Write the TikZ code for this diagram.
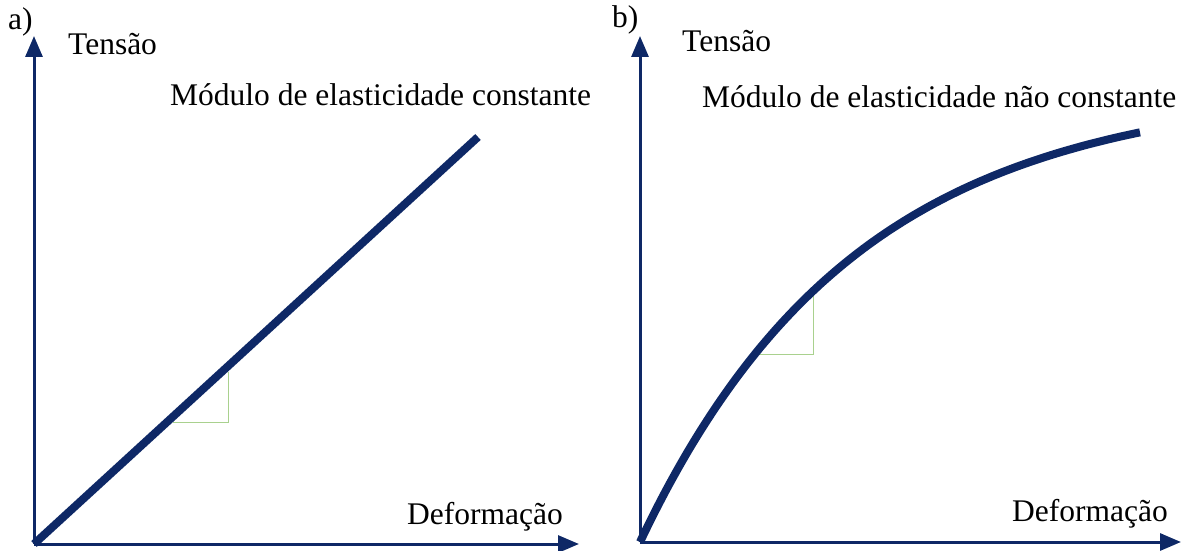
\documentclass[tikz,border=0pt]{standalone}
\usepackage{fontspec}
\setmainfont{Liberation Serif}
\usetikzlibrary{arrows.meta}
\definecolor{navy}{RGB}{14,40,102}
\definecolor{lgreen}{RGB}{169,209,142}
\begin{document}
\begin{tikzpicture}[x=1pt,y=-1pt,
  lbl/.style={anchor=base west,inner sep=0pt,font=\fontsize{31.5}{37}\selectfont},
  axis/.style={draw=navy,line width=3pt,-{Triangle[length=21pt,width=17pt]}},
  curve/.style={draw=navy,line width=8pt},
  tri/.style={draw=lgreen,line width=1pt}]
\useasboundingbox (0,0) rectangle (1187,551);
% panel a
\coordinate (oa) at (34,544);
\coordinate (ya) at (34,36);
\coordinate (xa) at (579,544);
\coordinate (ea) at (478,137);
\coordinate (ta1) at (173,422);
\coordinate (ta2) at (228,422);
\coordinate (ta3) at (228,372);
\draw[tri] (ta1) -- (ta2) -- (ta3);
\draw[axis] (oa) -- (ya);
\draw[axis] (oa) -- (xa);
\draw[curve] (oa) -- (ea);
\node[lbl] (la) at (8,30) {a)};
\node[lbl] (tya) at (68,55) {Tensão};
\node[lbl] (ma) at (170,106) {Módulo de elasticidade constante};
\node[lbl] (dxa) at (407,524) {Deformação};
% panel b
\coordinate (ob) at (640,542);
\coordinate (yb) at (640,36);
\coordinate (xb) at (1181,542);
\coordinate (tb1) at (755,354);
\coordinate (tb2) at (813,354);
\coordinate (tb3) at (813,292);
\draw[tri] (tb1) -- (tb2) -- (tb3);
\draw[axis] (ob) -- (yb);
\draw[axis] (ob) -- (xb);
\draw[curve] plot[domain=0:500,samples=120,smooth] ({640+\x},{542-454*(1-exp(-\x/215))});
\node[lbl] (lb) at (612,28) {b)};
\node[lbl] (tyb) at (682,52) {Tensão};
\node[lbl] (mb) at (702,107) {Módulo de elasticidade não constante};
\node[lbl] (dxb) at (1012,521) {Deformação};
\end{tikzpicture}
\end{document}
